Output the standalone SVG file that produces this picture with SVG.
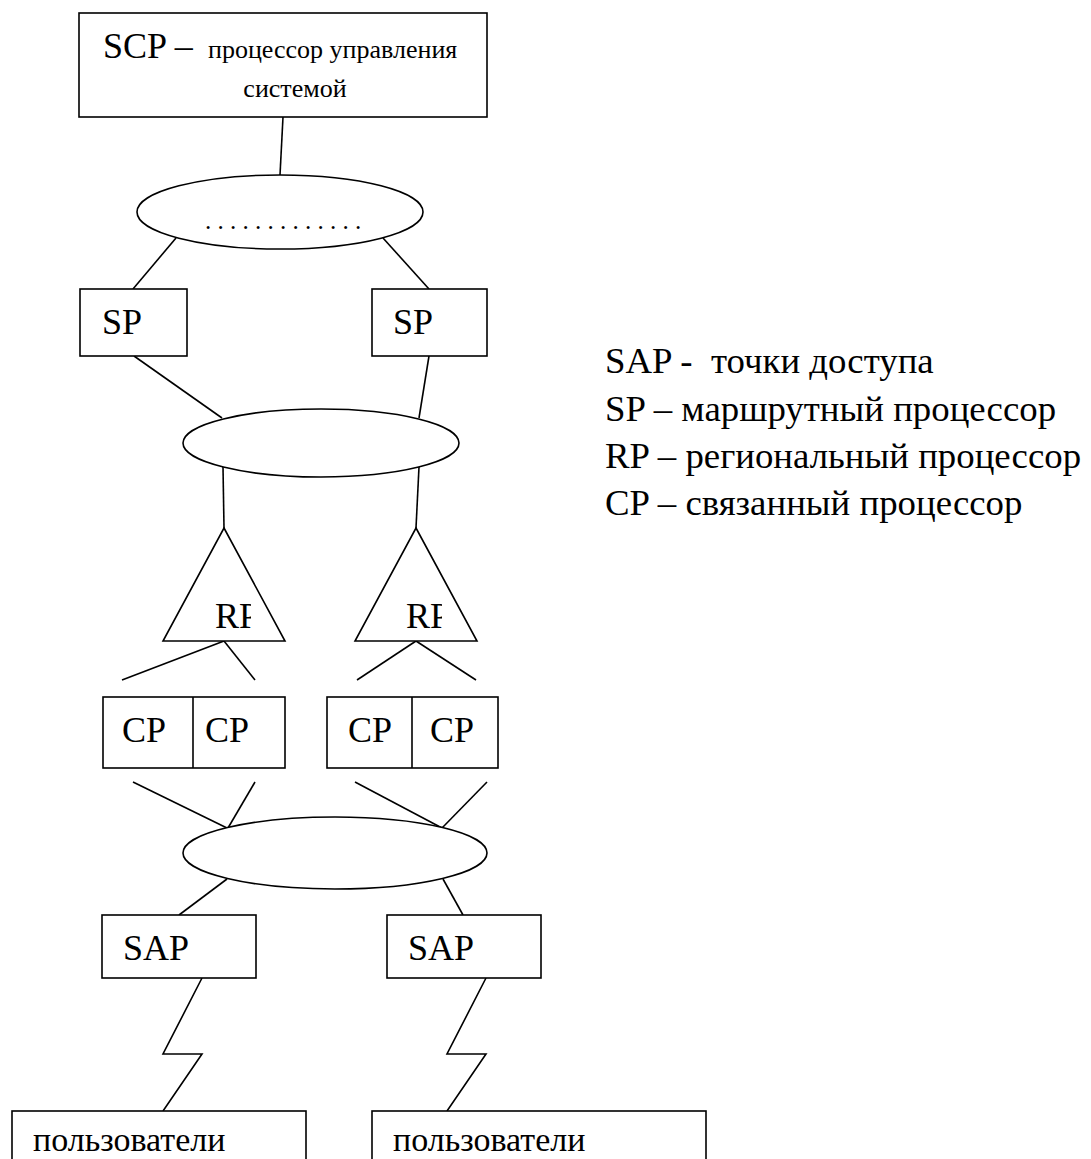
<svg xmlns="http://www.w3.org/2000/svg" width="1091" height="1159" viewBox="0 0 1091 1159">
<style>
.s{fill:#fff;stroke:#000;stroke-width:1.6}
.l{fill:none;stroke:#000;stroke-width:1.6}
text{font-family:"Liberation Serif","Times New Roman",serif;fill:#000}
.t{font-size:36px}
.sm{font-size:26px}
.lg{font-size:36.8px}
</style>
<defs>
<clipPath id="c1"><rect x="200" y="590" width="51" height="50"/></clipPath>
<clipPath id="c2"><rect x="390" y="590" width="52" height="50"/></clipPath>
</defs>
<rect width="1091" height="1159" fill="#fff"/>
<g id="connectors">
<line class="l" x1="283" y1="117" x2="280" y2="175"/>
<line class="l" x1="176" y1="238" x2="133" y2="289"/>
<line class="l" x1="383" y1="238" x2="429" y2="289"/>
<line class="l" x1="134" y1="356" x2="222" y2="418"/>
<line class="l" x1="429" y1="356" x2="419" y2="418"/>
<line class="l" x1="223" y1="467" x2="224" y2="528"/>
<line class="l" x1="419" y1="467" x2="416" y2="528"/>
<line class="l" x1="224" y1="641" x2="122" y2="680"/>
<line class="l" x1="224" y1="641" x2="255" y2="680"/>
<line class="l" x1="416" y1="641" x2="357" y2="680"/>
<line class="l" x1="416" y1="641" x2="476" y2="680"/>
<line class="l" x1="133" y1="782" x2="227" y2="828"/>
<line class="l" x1="255" y1="782" x2="228" y2="828"/>
<line class="l" x1="355" y1="782" x2="442" y2="828"/>
<line class="l" x1="487" y1="782" x2="442" y2="828"/>
<line class="l" x1="227" y1="879" x2="179" y2="915"/>
<line class="l" x1="443" y1="879" x2="463" y2="915"/>
<polyline class="l" points="202,978 163,1054 202,1054 163,1111"/>
<polyline class="l" points="486,978 447,1054 486,1054 447,1111"/>
</g>
<g id="scp">
<rect class="s" x="79" y="13" width="408" height="104"/>
<text x="103" y="58"><tspan class="t">SCP – </tspan><tspan class="sm" x="208">процессор управления</tspan></text>
<text class="sm" x="295" y="97" text-anchor="middle">системой</text>
</g>
<g id="net1">
<ellipse class="s" cx="280" cy="212" rx="143" ry="37"/>
<text x="205" y="229" style="font-size:25px">. . . . . . . . . . . . .</text>
</g>
<g id="sp1"><rect class="s" x="80" y="289" width="107" height="67"/><text class="t" x="102" y="334">SP</text></g>
<g id="sp2"><rect class="s" x="372" y="289" width="115" height="67"/><text class="t" x="393" y="334">SP</text></g>
<g id="net2"><ellipse class="s" cx="321" cy="443" rx="138" ry="34"/></g>
<g id="rp1"><polygon class="s" points="224,528 285,641 163,641"/><text class="t" x="215" y="628" clip-path="url(#c1)">RP</text></g>
<g id="rp2"><polygon class="s" points="416,528 477,641 355,641"/><text class="t" x="406" y="628" clip-path="url(#c2)">RP</text></g>
<g id="cp1">
<rect class="s" x="103" y="697" width="182" height="71"/>
<line class="l" x1="193" y1="697" x2="193" y2="768"/>
<text class="t" x="122" y="742">CP</text><text class="t" x="205" y="742">CP</text>
</g>
<g id="cp2">
<rect class="s" x="327" y="697" width="171" height="71"/>
<line class="l" x1="412" y1="697" x2="412" y2="768"/>
<text class="t" x="348" y="742">CP</text><text class="t" x="430" y="742">CP</text>
</g>
<g id="net3"><ellipse class="s" cx="335" cy="853" rx="152" ry="36"/></g>
<g id="sap1"><rect class="s" x="102" y="915" width="154" height="63"/><text class="t" x="123" y="960">SAP</text></g>
<g id="sap2"><rect class="s" x="387" y="915" width="154" height="63"/><text class="t" x="408" y="960">SAP</text></g>
<g id="users1"><rect class="s" x="12" y="1111" width="294" height="70"/><text x="33" y="1151" style="font-size:34px">пользователи</text></g>
<g id="users2"><rect class="s" x="372" y="1111" width="334" height="70"/><text x="393" y="1151" style="font-size:34px">пользователи</text></g>
<g id="legend" class="lg">
<text x="605" y="373" xml:space="preserve">SAP -  точки доступа</text>
<text x="605" y="421">SP – маршрутный процессор</text>
<text x="605" y="468">RP – региональный процессор</text>
<text x="605" y="515">CP – связанный процессор</text>
</g>
</svg>
